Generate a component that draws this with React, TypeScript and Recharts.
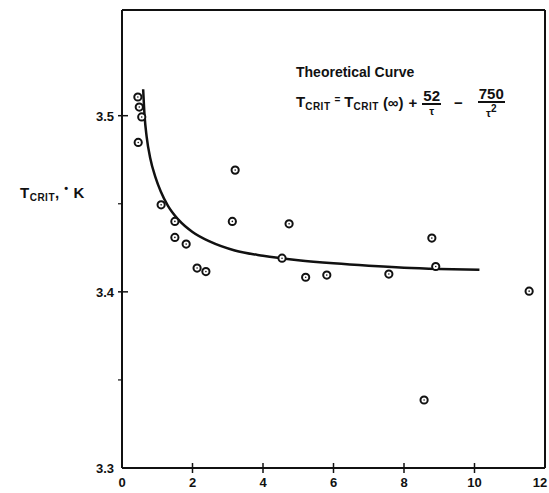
import React from "react";
import { ScatterChart, Scatter, XAxis, YAxis } from "recharts";

// measured points (tau, T_crit)
const tau = [0.45, 0.49, 0.56, 0.46, 1.11, 1.5, 1.5, 1.82, 2.13, 2.38, 3.21, 3.13, 4.74, 4.54, 5.21, 5.81, 7.57, 8.79, 8.9, 11.55, 8.57];
const tCrit = [3.5106, 3.5049, 3.4993, 3.4848, 3.4494, 3.44, 3.4309, 3.4271, 3.4135, 3.4115, 3.4691, 3.44, 3.4386, 3.4191, 3.4083, 3.4095, 3.4101, 3.4305, 3.4144, 3.4004, 3.3386];

// theoretical curve
const curveTau = [0.6, 0.64, 0.7, 0.8, 0.95, 1.1, 1.3, 1.6, 2.0, 2.5, 3.2, 4.0, 5.0, 6.0, 7.0, 8.0, 9.0, 10.14];
const curveT = [3.515, 3.5, 3.488, 3.476, 3.465, 3.457, 3.449, 3.441, 3.434, 3.4285, 3.4235, 3.4205, 3.418, 3.4162, 3.4148, 3.4137, 3.413, 3.4125];

const xTicks = [0, 2, 4, 6, 8, 10, 12];
const topTicks = [2, 4, 6, 8, 10];
const yTicks = [3.3, 3.35, 3.4, 3.45, 3.5];
const yLabels = [3.3, 3.4, 3.5];
const rightTicks = [3.35, 3.4, 3.45, 3.5];

const points = tau.map((x, i) => ({ x, y: tCrit[i] }));
const curve = curveTau.map((x, i) => ({ x, y: curveT[i] }));

const font = "'Liberation Sans', Arial, sans-serif";
const ink = "#111";

const BottomTick = (props: any) => {
    const { x, y, payload } = props;
    const v = payload.value;
    // the last label sits at the page edge, nudge it in
    const lx = v === 12 ? x - 5 : x;
    return (
        <g>
            {v > 0 && v < 12 && <line x1={x} x2={x} y1={y - 5} y2={y + 5} stroke={ink} strokeWidth={1.5} />}
            <text x={lx} y={y + 19} textAnchor="middle" fontFamily={font} fontWeight={700} fontSize={13} fill={ink}>
                {v}
            </text>
        </g>
    );
};

const TopTick = (props: any) => {
    const { x, y } = props;
    return <line x1={x} x2={x} y1={y} y2={y + 6} stroke={ink} strokeWidth={1.5} />;
};

const LeftTick = (props: any) => {
    const { x, y, payload } = props;
    const v = payload.value;
    const major = yLabels.includes(v);
    return (
        <g>
            {major && v > 3.3 && <line x1={x - 4} x2={x + 6} y1={y} y2={y} stroke={ink} strokeWidth={1.5} />}
            {!major && <line x1={x - 4} x2={x} y1={y} y2={y} stroke={ink} strokeWidth={1.2} />}
            {major && (
                <text x={x - 8} y={y + 5} textAnchor="end" fontFamily={font} fontWeight={700} fontSize={13} fill={ink}>
                    {v.toFixed(1)}
                </text>
            )}
        </g>
    );
};

const RightTick = (props: any) => {
    const { x, y } = props;
    return <line x1={x - 6} x2={x} y1={y} y2={y} stroke={ink} strokeWidth={1.5} />;
};

const Ring = (props: any) => {
    const { cx, cy } = props;
    return (
        <g>
            <circle cx={cx} cy={cy} r={3.6} fill="#fff" stroke={ink} strokeWidth={2} />
            <circle cx={cx} cy={cy} r={0.8} fill={ink} />
        </g>
    );
};

const Frac = ({ top, bottom }: { top: React.ReactNode; bottom: React.ReactNode }) => (
    <span style={{ display: "inline-flex", flexDirection: "column", alignItems: "center", margin: "0 3px" }}>
        <span style={{ fontSize: 15, lineHeight: "15px", borderBottom: `2px solid ${ink}`, padding: "0 1px" }}>{top}</span>
        <span style={{ fontSize: 11, lineHeight: "12px" }}>{bottom}</span>
    </span>
);

export default function App() {
    const sub = { fontSize: 10, verticalAlign: "-3px", letterSpacing: 0.5 } as React.CSSProperties;
    return (
        <div style={{ position: "absolute", left: 0, top: 0, width: 549, height: 493, background: "#fff", fontFamily: font, color: ink }}>
            <ScatterChart width={549} height={493} margin={{ top: 0, right: 0, bottom: 0, left: 0 }}>
                <XAxis
                    type="number"
                    dataKey="x"
                    domain={[0, 12]}
                    ticks={xTicks}
                    interval={0}
                    height={25}
                    tickSize={0}
                    tickMargin={0}
                    tickLine={false}
                    tick={<BottomTick />}
                    axisLine={{ stroke: ink, strokeWidth: 2 }}
                    allowDataOverflow
                />
                <XAxis
                    xAxisId="top"
                    orientation="top"
                    type="number"
                    dataKey="x"
                    domain={[0, 12]}
                    ticks={topTicks}
                    interval={0}
                    height={10}
                    tickSize={0}
                    tickMargin={0}
                    tickLine={false}
                    tick={<TopTick />}
                    axisLine={{ stroke: ink, strokeWidth: 2 }}
                />
                <YAxis
                    type="number"
                    dataKey="y"
                    domain={[3.3, 3.56]}
                    ticks={yTicks}
                    interval={0}
                    width={122}
                    tickSize={0}
                    tickMargin={0}
                    tickLine={false}
                    tick={<LeftTick />}
                    axisLine={{ stroke: ink, strokeWidth: 2 }}
                    allowDataOverflow
                />
                <YAxis
                    yAxisId="right"
                    orientation="right"
                    type="number"
                    dataKey="y"
                    domain={[3.3, 3.56]}
                    ticks={rightTicks}
                    interval={0}
                    width={4}
                    tickSize={0}
                    tickMargin={0}
                    tickLine={false}
                    tick={<RightTick />}
                    axisLine={{ stroke: ink, strokeWidth: 2 }}
                />
                <Scatter
                    data={curve}
                    line={{ stroke: ink, strokeWidth: 2.5 }}
                    lineJointType="monotoneX"
                    shape={() => <g />}
                    isAnimationActive={false}
                />
                <Scatter data={points} shape={<Ring />} isAnimationActive={false} />
            </ScatterChart>

            <div style={{ position: "absolute", left: 296, top: 64, fontSize: 14, fontWeight: 700, whiteSpace: "nowrap" }}>
                Theoretical Curve
            </div>

            <div style={{ position: "absolute", left: 296, top: 86, fontSize: 15, fontWeight: 700, whiteSpace: "nowrap", display: "flex", alignItems: "center" }}>
                <span>
                    T<span style={sub}>CRIT</span>
                </span>
                <span style={{ fontSize: 10, margin: "0 4px", position: "relative", top: -3 }}>=</span>
                <span>
                    T<span style={sub}>CRIT</span>
                </span>
                <span style={{ marginLeft: 4 }}>(∞)</span>
                <span style={{ margin: "0 2px 0 5px" }}>+</span>
                <Frac top="52" bottom="τ" />
                <span style={{ margin: "0 12px 0 10px" }}>−</span>
                <Frac top="750" bottom={<span>τ<sup style={{ fontSize: 10 }}>2</sup></span>} />
            </div>

            <div style={{ position: "absolute", left: 20, top: 182, fontSize: 15, fontWeight: 700, whiteSpace: "nowrap", letterSpacing: 0.5 }}>
                T<span style={sub}>CRIT</span>,&nbsp;<sup style={{ fontSize: 11 }}>•</sup>&nbsp;K
            </div>
        </div>
    );
}
